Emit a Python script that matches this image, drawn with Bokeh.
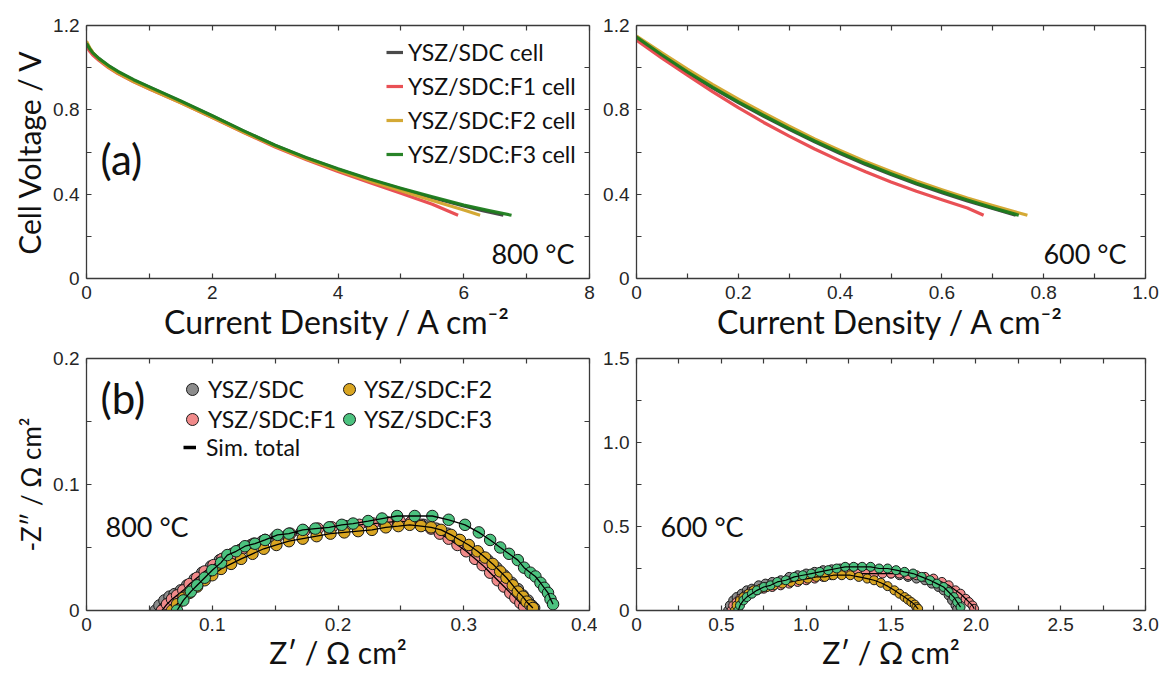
from bokeh.plotting import figure
from bokeh.layouts import column, row
from bokeh.models import (LinearAxis, FixedTicker, Range1d, Legend, LegendItem, Label,
                          CustomJSTickFormatter, ColumnDataSource)
from bokeh.embed import file_html
from bokeh.resources import INLINE

# ---------------- data ----------------
series_names = ["YSZ/SDC", "YSZ/SDC:F1", "YSZ/SDC:F2", "YSZ/SDC:F3"]

# I-V curves, 800 C
cur800_sdc = [0, 0.05, 0.1, 0.2, 0.35, 0.5, 0.75, 1, 1.5, 2, 2.5, 3, 3.5, 4, 4.5, 5, 5.5, 6, 6.3, 6.63]
vol800_sdc = [1.115, 1.09, 1.07, 1.042, 1.008, 0.98, 0.941, 0.907, 0.84, 0.771, 0.699, 0.631, 0.571, 0.518, 0.469, 0.425, 0.383, 0.344, 0.322, 0.30]
cur800_f1 = [0, 0.05, 0.1, 0.2, 0.35, 0.5, 0.75, 1, 1.5, 2, 2.5, 3, 3.5, 4, 4.5, 5, 5.5, 5.91]
vol800_f1 = [1.10, 1.078, 1.06, 1.034, 1.0, 0.972, 0.933, 0.899, 0.833, 0.764, 0.692, 0.624, 0.563, 0.507, 0.455, 0.404, 0.352, 0.30]
cur800_f2 = [0, 0.05, 0.1, 0.2, 0.35, 0.5, 0.75, 1, 1.5, 2, 2.5, 3, 3.5, 4, 4.5, 5, 5.5, 6, 6.26]
vol800_f2 = [1.125, 1.095, 1.072, 1.04, 1.003, 0.974, 0.934, 0.90, 0.833, 0.765, 0.694, 0.627, 0.567, 0.513, 0.463, 0.416, 0.37, 0.325, 0.30]
cur800_f3 = [0, 0.05, 0.1, 0.2, 0.35, 0.5, 0.75, 1, 1.5, 2, 2.5, 3, 3.5, 4, 4.5, 5, 5.5, 6, 6.4, 6.76]
vol800_f3 = [1.115, 1.09, 1.07, 1.043, 1.01, 0.982, 0.943, 0.909, 0.842, 0.772, 0.700, 0.632, 0.573, 0.52, 0.472, 0.428, 0.387, 0.348, 0.322, 0.30]

# I-V curves, 600 C
cur600_sdc = [0, 0.05, 0.1, 0.15, 0.2, 0.25, 0.3, 0.35, 0.4, 0.45, 0.5, 0.55, 0.6, 0.65, 0.7, 0.745]
vol600_sdc = [1.142, 1.057, 0.976, 0.903, 0.834, 0.769, 0.707, 0.648, 0.593, 0.541, 0.493, 0.448, 0.407, 0.368, 0.332, 0.30]
cur600_f1 = [0, 0.05, 0.1, 0.15, 0.2, 0.25, 0.3, 0.35, 0.4, 0.45, 0.5, 0.55, 0.6, 0.65, 0.682]
vol600_f1 = [1.13, 1.045, 0.964, 0.885, 0.81, 0.74, 0.675, 0.614, 0.558, 0.506, 0.458, 0.414, 0.373, 0.334, 0.30]
cur600_f2 = [0, 0.05, 0.1, 0.15, 0.2, 0.25, 0.3, 0.35, 0.4, 0.45, 0.5, 0.55, 0.6, 0.65, 0.7, 0.75, 0.768]
vol600_f2 = [1.15, 1.07, 0.993, 0.92, 0.851, 0.785, 0.722, 0.662, 0.607, 0.555, 0.507, 0.462, 0.421, 0.382, 0.346, 0.312, 0.30]
cur600_f3 = [0, 0.05, 0.1, 0.15, 0.2, 0.25, 0.3, 0.35, 0.4, 0.45, 0.5, 0.55, 0.6, 0.65, 0.7, 0.751]
vol600_f3 = [1.145, 1.06, 0.98, 0.907, 0.838, 0.773, 0.711, 0.652, 0.597, 0.545, 0.497, 0.452, 0.411, 0.372, 0.335, 0.30]

# Impedance spectra, 800 C (Z', -Z'')
zre800_sdc = [0.055, 0.058, 0.062, 0.066, 0.070, 0.075, 0.080, 0.086, 0.092, 0.099,
              0.106, 0.114, 0.122, 0.131, 0.140, 0.150, 0.160, 0.171, 0.182, 0.193,
              0.204, 0.215, 0.226, 0.237, 0.248, 0.258, 0.268, 0.278, 0.287, 0.296,
              0.304, 0.312, 0.319, 0.326, 0.332, 0.338, 0.343, 0.347, 0.351, 0.354, 0.356]
zim800_sdc = [0.000, 0.004, 0.008, 0.011, 0.013, 0.016, 0.020, 0.025, 0.030, 0.035,
              0.040, 0.044, 0.048, 0.052, 0.055, 0.058, 0.060, 0.062, 0.064, 0.065,
              0.066, 0.067, 0.068, 0.069, 0.070, 0.070, 0.068, 0.065, 0.061, 0.056,
              0.051, 0.045, 0.040, 0.034, 0.028, 0.022, 0.017, 0.012, 0.008, 0.004, 0.002]
zre800_f1 = [0.060, 0.064, 0.068, 0.072, 0.077, 0.082, 0.088, 0.094, 0.101, 0.108,
             0.116, 0.124, 0.133, 0.142, 0.152, 0.162, 0.173, 0.184, 0.195, 0.206,
             0.217, 0.228, 0.239, 0.249, 0.258, 0.266, 0.274, 0.281, 0.288, 0.295,
             0.302, 0.309, 0.315, 0.321, 0.327, 0.332, 0.337, 0.341, 0.345, 0.348]
zim800_f1 = [0.000, 0.005, 0.009, 0.012, 0.016, 0.021, 0.026, 0.031, 0.036, 0.041,
             0.045, 0.049, 0.053, 0.056, 0.059, 0.061, 0.063, 0.065, 0.066, 0.067,
             0.068, 0.069, 0.070, 0.071, 0.070, 0.068, 0.065, 0.061, 0.057, 0.052,
             0.047, 0.041, 0.036, 0.030, 0.024, 0.019, 0.014, 0.010, 0.006, 0.003]
zre800_f2 = [0.068, 0.072, 0.077, 0.082, 0.088, 0.094, 0.100, 0.107, 0.115, 0.123,
             0.132, 0.141, 0.151, 0.161, 0.172, 0.183, 0.194, 0.205, 0.216, 0.227,
             0.238, 0.248, 0.257, 0.266, 0.274, 0.282, 0.290, 0.297, 0.304, 0.311,
             0.317, 0.323, 0.329, 0.334, 0.339, 0.343, 0.347, 0.350, 0.353, 0.355]
zim800_f2 = [0.000, 0.005, 0.010, 0.014, 0.019, 0.024, 0.028, 0.033, 0.037, 0.041,
             0.045, 0.049, 0.052, 0.055, 0.057, 0.059, 0.061, 0.062, 0.063, 0.064,
             0.066, 0.067, 0.068, 0.067, 0.066, 0.064, 0.060, 0.056, 0.052, 0.047,
             0.042, 0.037, 0.031, 0.026, 0.020, 0.015, 0.011, 0.007, 0.004, 0.002]
zre800_f3 = [0.072, 0.077, 0.083, 0.088, 0.094, 0.100, 0.107, 0.112, 0.119, 0.126,
             0.134, 0.142, 0.152, 0.161, 0.172, 0.182, 0.193, 0.203, 0.212, 0.224,
             0.235, 0.247, 0.261, 0.275, 0.288, 0.301, 0.312, 0.321, 0.329, 0.336,
             0.343, 0.348, 0.353, 0.357, 0.361, 0.364, 0.367, 0.369, 0.371]
zim800_f3 = [0.000, 0.008, 0.015, 0.020, 0.026, 0.032, 0.038, 0.044, 0.047, 0.051,
             0.053, 0.056, 0.060, 0.061, 0.064, 0.065, 0.066, 0.068, 0.069, 0.071,
             0.073, 0.075, 0.075, 0.075, 0.072, 0.068, 0.062, 0.056, 0.050, 0.045,
             0.040, 0.034, 0.030, 0.027, 0.022, 0.018, 0.014, 0.009, 0.005]

# Impedance spectra, 600 C
zre600_sdc = [0.54, 0.55, 0.57, 0.59, 0.62, 0.65, 0.68, 0.72, 0.76, 0.80,
              0.85, 0.90, 0.95, 1.00, 1.05, 1.10, 1.15, 1.20, 1.25, 1.30,
              1.35, 1.40, 1.45, 1.50, 1.55, 1.60, 1.65, 1.70, 1.74, 1.78,
              1.81, 1.84, 1.86, 1.88, 1.89]
zim600_sdc = [0.00, 0.03, 0.06, 0.08, 0.10, 0.12, 0.13, 0.15, 0.16, 0.17,
              0.18, 0.20, 0.21, 0.22, 0.23, 0.24, 0.245, 0.25, 0.25, 0.25,
              0.245, 0.24, 0.23, 0.22, 0.21, 0.20, 0.19, 0.18, 0.16, 0.14,
              0.12, 0.09, 0.06, 0.03, 0.01]
zre600_f1 = [0.56, 0.57, 0.59, 0.61, 0.64, 0.67, 0.71, 0.75, 0.80, 0.85,
             0.90, 0.95, 1.00, 1.05, 1.10, 1.15, 1.20, 1.25, 1.30, 1.35,
             1.40, 1.45, 1.50, 1.55, 1.60, 1.65, 1.70, 1.75, 1.80, 1.84,
             1.88, 1.91, 1.94, 1.96, 1.98, 1.99]
zim600_f1 = [0.00, 0.03, 0.05, 0.07, 0.09, 0.11, 0.12, 0.13, 0.14, 0.15,
             0.16, 0.17, 0.18, 0.19, 0.20, 0.21, 0.22, 0.22, 0.22, 0.22,
             0.22, 0.22, 0.22, 0.22, 0.21, 0.21, 0.20, 0.19, 0.17, 0.15,
             0.12, 0.10, 0.07, 0.05, 0.03, 0.01]
zre600_f2 = [0.58, 0.59, 0.61, 0.63, 0.66, 0.69, 0.73, 0.77, 0.81, 0.86,
             0.91, 0.96, 1.01, 1.06, 1.11, 1.16, 1.21, 1.26, 1.31, 1.36,
             1.40, 1.44, 1.48, 1.52, 1.55, 1.58, 1.60, 1.62, 1.64, 1.65, 1.66]
zim600_f2 = [0.00, 0.03, 0.06, 0.08, 0.10, 0.12, 0.13, 0.14, 0.15, 0.16,
             0.17, 0.18, 0.19, 0.20, 0.20, 0.21, 0.21, 0.21, 0.20, 0.19,
             0.18, 0.165, 0.145, 0.12, 0.10, 0.08, 0.065, 0.05, 0.035, 0.02, 0.01]
zre600_f3 = [0.60, 0.61, 0.63, 0.65, 0.68, 0.71, 0.75, 0.79, 0.83, 0.88,
             0.93, 0.98, 1.03, 1.08, 1.13, 1.18, 1.23, 1.28, 1.33, 1.38,
             1.43, 1.48, 1.53, 1.58, 1.63, 1.68, 1.73, 1.77, 1.81, 1.84,
             1.87, 1.89, 1.91]
zim600_f3 = [0.00, 0.03, 0.06, 0.08, 0.10, 0.12, 0.14, 0.15, 0.17, 0.18,
             0.20, 0.21, 0.22, 0.23, 0.24, 0.25, 0.26, 0.26, 0.26, 0.26,
             0.25, 0.25, 0.24, 0.23, 0.22, 0.20, 0.18, 0.16, 0.14, 0.11,
             0.08, 0.05, 0.02]

# ticks and tick labels
iv800_xticks = [0, 2, 4, 6, 8]
iv800_xlabels = ["0", "2", "4", "6", "8"]
iv800_xminor = [1, 3, 5, 7]
iv600_xticks = [0, 0.2, 0.4, 0.6, 0.8, 1.0]
iv600_xlabels = ["0", "0.2", "0.4", "0.6", "0.8", "1.0"]
iv600_xminor = [0.1, 0.3, 0.5, 0.7, 0.9]
iv_yticks = [0, 0.4, 0.8, 1.2]
iv_ylabels = ["0", "0.4", "0.8", "1.2"]
iv_yminor = [0.2, 0.6, 1.0]
eis800_xticks = [0, 0.1, 0.2, 0.3, 0.4]
eis800_xlabels = ["0", "0.1", "0.2", "0.3", "0.4"]
eis800_xminor = [0.05, 0.15, 0.25, 0.35]
eis800_yticks = [0, 0.1, 0.2]
eis800_ylabels = ["0", "0.1", "0.2"]
eis800_yminor = [0.05, 0.15]
eis600_xticks = [0, 0.5, 1.0, 1.5, 2.0, 2.5, 3.0]
eis600_xlabels = ["0", "0.5", "1.0", "1.5", "2.0", "2.5", "3.0"]
eis600_xminor = [0.25, 0.75, 1.25, 1.75, 2.25, 2.75]
eis600_yticks = [0, 0.5, 1.0, 1.5]
eis600_ylabels = ["0", "0.5", "1.0", "1.5"]
eis600_yminor = [0.25, 0.75, 1.25]

# ---------------- styles ----------------
LINE_COLORS = ["#404040", "#e8474c", "#d2a42a", "#1c7c1c"]
FILL_COLORS = ["#8c8c8c", "#f08a8a", "#d9a521", "#4cc27f"]
AX = "#3a3a3a"
TITLE_FONT = "Lato"
TICK_FONT = "Liberation Sans"


def style_axis(ax, major, minor, labels=None):
    ax.ticker = FixedTicker(ticks=major, minor_ticks=minor)
    ax.axis_line_color = AX
    ax.axis_line_width = 1.3
    ax.major_tick_line_color = AX
    ax.minor_tick_line_color = AX
    ax.major_tick_line_width = 1.2
    ax.minor_tick_line_width = 1.2
    ax.major_tick_in = 5
    ax.major_tick_out = 0
    ax.minor_tick_in = 5
    ax.minor_tick_out = 0
    ax.major_label_standoff = 7
    ax.major_label_text_font = TICK_FONT
    ax.major_label_text_font_size = "19px"
    ax.major_label_text_color = "#262626"
    ax.axis_label_text_font = TITLE_FONT
    ax.axis_label_text_font_size = "30px"
    ax.axis_label_text_font_style = "normal"
    ax.axis_label_text_color = "#111111"
    if labels is None:
        ax.formatter = CustomJSTickFormatter(code="return ''")
        ax.major_label_standoff = 0
    else:
        ax.major_label_overrides = {t: s for t, s in zip(major, labels)}


def make_fig(xr, yr, xt, xl, xm, yt, yl, ym, xtitle, ytitle, xsize, ysize,
             left_b, fw, fh, top_b, bot_b, right_b):
    p = figure(frame_width=fw, frame_height=fh, x_range=Range1d(*xr), y_range=Range1d(*yr),
               output_backend="svg", toolbar_location=None, x_axis_type=None, y_axis_type=None,
               min_border_left=left_b, min_border_right=right_b, min_border_top=top_b,
               min_border_bottom=bot_b)
    p.outline_line_color = None
    p.background_fill_color = "white"
    p.border_fill_color = "white"
    xb = LinearAxis(axis_label=xtitle)
    style_axis(xb, xt, xm, xl)
    xb.axis_label_text_font_size = xsize
    xb.axis_label_standoff = 0
    p.add_layout(xb, "below")
    yb = LinearAxis(axis_label=ytitle)
    style_axis(yb, yt, ym, yl)
    yb.axis_label_text_font_size = ysize
    yb.axis_label_standoff = 3
    p.add_layout(yb, "left")
    xa = LinearAxis()
    style_axis(xa, xt, xm)
    p.add_layout(xa, "above")
    ya = LinearAxis()
    style_axis(ya, yt, ym)
    p.add_layout(ya, "right")
    return p


def add_label(p, text, x, y, size, align="left"):
    p.add_layout(Label(x=x, y=y, x_units="screen", y_units="screen", text=text,
                       text_font=TITLE_FONT, text_font_size=size, text_align=align,
                       text_baseline="middle", text_color="#111111"))


# ---------------- panel (a) 800 C ----------------
p1 = make_fig((0, 8), (0, 1.2), iv800_xticks, iv800_xlabels, iv800_xminor,
              iv_yticks, iv_ylabels, iv_yminor,
              "Current Density / A cm\u207b\u00b2", "Cell Voltage / V", "32px", "30px",
              86, 503, 253, 25, 70, 8)
iv800 = [(cur800_sdc, vol800_sdc), (cur800_f1, vol800_f1), (cur800_f2, vol800_f2), (cur800_f3, vol800_f3)]
iv_renderers = []
for (xs, ys), c in zip(iv800, LINE_COLORS):
    r = p1.line(xs, ys, line_color=c, line_width=3.2, line_alpha=0.95, line_join="round")
    iv_renderers.append(r)
leg1 = Legend(items=[LegendItem(label=n + " cell", renderers=[r]) for n, r in zip(series_names, iv_renderers)],
              location=(300, 110), border_line_color=None, background_fill_alpha=0,
              label_text_font=TITLE_FONT, label_text_font_size="23px", label_text_color="#111111",
              glyph_width=17, glyph_height=28, label_height=28, spacing=6, label_standoff=5,
              padding=0, margin=0)
p1.add_layout(leg1)
add_label(p1, "(a)", 14, 120, "42px")
add_label(p1, "800 \u00b0C", 488, 25, "27px", "right")

# ---------------- panel (a) 600 C ----------------
p2 = make_fig((0, 1.0), (0, 1.2), iv600_xticks, iv600_xlabels, iv600_xminor,
              iv_yticks, iv_ylabels, iv_yminor,
              "Current Density / A cm\u207b\u00b2", None, "32px", "30px",
              39, 509, 253, 25, 70, 14)
iv600 = [(cur600_sdc, vol600_sdc), (cur600_f1, vol600_f1), (cur600_f2, vol600_f2), (cur600_f3, vol600_f3)]
for (xs, ys), c in zip(iv600, LINE_COLORS):
    p2.line(xs, ys, line_color=c, line_width=3.2, line_alpha=0.95, line_join="round")
add_label(p2, "600 \u00b0C", 490, 25, "27px", "right")

# ---------------- panel (b) 800 C ----------------
p3 = make_fig((0, 0.4), (0, 0.2), eis800_xticks, eis800_xlabels, eis800_xminor,
              eis800_yticks, eis800_ylabels, eis800_yminor,
              "Z\u2032 / \u03a9 cm\u00b2", "-Z\u2033 / \u03a9 cm\u00b2", "30px", "26px",
              86, 503, 252, 10, 65, 8)
eis800 = [(zre800_sdc, zim800_sdc), (zre800_f1, zim800_f1), (zre800_f2, zim800_f2), (zre800_f3, zim800_f3)]
sc_renderers = []
for (xs, ys), fc in zip(eis800, FILL_COLORS):
    src = ColumnDataSource(dict(x=xs, y=ys))
    r = p3.scatter("x", "y", source=src, size=11.5, fill_color=fc, line_color="#1a1a1a", line_width=1)
    p3.line("x", "y", source=src, line_color="black", line_width=1.3)
    sc_renderers.append(r)
# proxy renderer (single point, draws nothing) used only for the "Sim. total" legend swatch
sim_proxy = p3.line(x=zre800_sdc[:1], y=zim800_sdc[:1], line_color="black", line_width=3.5)

legA = Legend(items=[LegendItem(label=series_names[0], renderers=[sc_renderers[0]]),
                     LegendItem(label=series_names[1], renderers=[sc_renderers[1]])],
              location=(91, 176), border_line_color=None, background_fill_alpha=0,
              label_text_font=TITLE_FONT, label_text_font_size="23px", label_text_color="#111111",
              glyph_width=30, glyph_height=30, label_height=28, spacing=0, label_standoff=1,
              padding=0, margin=0)
legC = Legend(items=[LegendItem(label=series_names[2], renderers=[sc_renderers[2]]),
                     LegendItem(label=series_names[3], renderers=[sc_renderers[3]])],
              location=(248, 176), border_line_color=None, background_fill_alpha=0,
              label_text_font=TITLE_FONT, label_text_font_size="23px", label_text_color="#111111",
              glyph_width=30, glyph_height=30, label_height=28, spacing=0, label_standoff=0,
              padding=0, margin=0)
legB = Legend(items=[LegendItem(label="Sim. total", renderers=[sim_proxy])],
              location=(97, 149), border_line_color=None, background_fill_alpha=0,
              label_text_font=TITLE_FONT, label_text_font_size="23px", label_text_color="#111111",
              glyph_width=13, glyph_height=28, label_height=28, spacing=2, label_standoff=10,
              padding=0, margin=0)
for lg in (legA, legB, legC):
    p3.add_layout(lg)
add_label(p3, "(b)", 14, 213, "42px")
add_label(p3, "800 \u00b0C", 19, 84, "27px")

# ---------------- panel (b) 600 C ----------------
p4 = make_fig((0, 3.0), (0, 1.5), eis600_xticks, eis600_xlabels, eis600_xminor,
              eis600_yticks, eis600_ylabels, eis600_yminor,
              "Z\u2032 / \u03a9 cm\u00b2", None, "30px", "26px",
              39, 509, 252, 10, 65, 14)
eis600 = [(zre600_sdc, zim600_sdc), (zre600_f1, zim600_f1), (zre600_f2, zim600_f2), (zre600_f3, zim600_f3)]
for (xs, ys), fc in zip(eis600, FILL_COLORS):
    src = ColumnDataSource(dict(x=xs, y=ys))
    p4.scatter("x", "y", source=src, size=9, fill_color=fc, line_color="#1a1a1a", line_width=1)
    p4.line("x", "y", source=src, line_color="black", line_width=1.2)
add_label(p4, "600 \u00b0C", 24, 84, "27px")

layout = column(row(p1, p2), row(p3, p4))
open("out.html", "w").write(file_html(layout, INLINE))
